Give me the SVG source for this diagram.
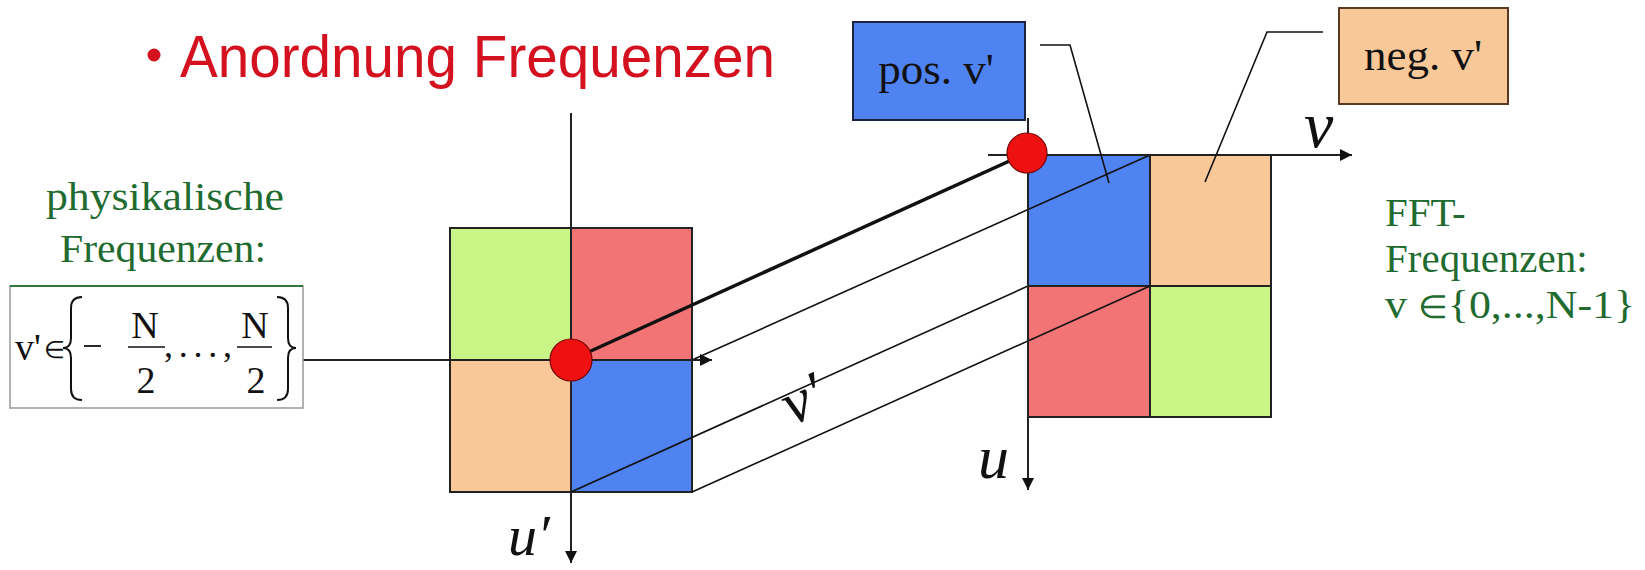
<svg xmlns="http://www.w3.org/2000/svg" width="1645" height="570" viewBox="0 0 1645 570">
<defs>
<style>
.q{stroke:#222;stroke-width:2}
.gr{fill:#c8f585}.rd{fill:#f27474}.pe{fill:#f8c898}.bl{fill:#5083f2}
.ax{stroke:#222;stroke-width:2;fill:none}
.thin{stroke:#111;stroke-width:1.6;fill:none}
.lab{font-family:"Liberation Serif","Times New Roman",serif;font-style:italic;fill:#111}
.green{font-family:"Liberation Serif","Times New Roman",serif;fill:#1f6b30;font-size:41px}
.f{font-family:"Liberation Serif","Times New Roman",serif;fill:#111}
.dot{fill:#ee1111;stroke:#700;stroke-width:1.2}
</style>
<marker id="ah" viewBox="0 0 10 10" refX="10" refY="5" markerWidth="12" markerHeight="12" markerUnits="userSpaceOnUse" orient="auto">
<path d="M0,0 L10,5 L0,10 z" fill="#111"/>
</marker>
</defs>
<rect width="1645" height="570" fill="#fff"/>

<g id="title">
<circle cx="154" cy="55" r="6.5" fill="#d4111f"/>
<text x="180" y="77" font-family="Liberation Sans, Arial, sans-serif" font-size="60" fill="#d4111f" textLength="595" lengthAdjust="spacingAndGlyphs">Anordnung Frequenzen</text>
</g>

<g id="left-square">
<rect class="gr q" x="450" y="228" width="121" height="132"/>
<rect class="rd q" x="571" y="228" width="121" height="132"/>
<rect class="pe q" x="450" y="360" width="121" height="132"/>
<rect class="bl q" x="571" y="360" width="121" height="132"/>
</g>

<g id="right-square">
<rect class="bl q" x="1028" y="155" width="122" height="131"/>
<rect class="pe q" x="1150" y="155" width="121" height="131"/>
<rect class="rd q" x="1028" y="286" width="122" height="131"/>
<rect class="gr q" x="1150" y="286" width="121" height="131"/>
</g>

<g id="connectors">
<line x1="571" y1="360" x2="1027" y2="153" stroke="#111" stroke-width="3.5"/>
<line class="thin" x1="692" y1="360" x2="1150" y2="155"/>
<line class="thin" x1="571" y1="492" x2="1028" y2="286"/>
<line class="thin" x1="692" y1="492" x2="1150" y2="286"/>
<line class="ax" x1="300" y1="360" x2="712" y2="360" marker-end="url(#ah)"/>
<line class="ax" x1="571" y1="113" x2="571" y2="563" marker-end="url(#ah)"/>
<line class="ax" x1="988" y1="155" x2="1352" y2="155" marker-end="url(#ah)"/>
<line class="ax" x1="1028" y1="118" x2="1028" y2="490" marker-end="url(#ah)"/>
<polyline class="thin" points="1040,45 1070,45 1109,183"/>
<polyline class="thin" points="1323,32 1267,32 1205,182"/>
</g>

<g id="origin-left"><circle class="dot" cx="571" cy="360" r="21"/></g>
<g id="origin-right"><circle class="dot" cx="1027" cy="153" r="20"/></g>

<g id="pos-label">
<rect x="853" y="22" width="172" height="98" fill="#5083f2" stroke="#1a2440" stroke-width="2"/>
<text class="f" x="936" y="84" font-size="45" text-anchor="middle">pos. v'</text>
</g>
<g id="neg-label">
<rect x="1339" y="8" width="169" height="96" fill="#f8c898" stroke="#5a3a20" stroke-width="2"/>
<text class="f" x="1423" y="70" font-size="45" text-anchor="middle">neg. v'</text>
</g>

<g id="axis-labels">
<text class="lab" x="1304" y="147" font-size="66">v</text>
<text class="lab" x="978" y="478" font-size="62">u</text>
<text class="lab" x="508" y="555" font-size="58">u′</text>
<text class="lab" transform="translate(792,426) rotate(-24)" font-size="62">v′</text>
</g>

<g id="phys-text">
<text class="green" x="46" y="210" textLength="238" lengthAdjust="spacingAndGlyphs">physikalische</text>
<text class="green" x="60" y="262" textLength="206" lengthAdjust="spacingAndGlyphs">Frequenzen:</text>
</g>

<g id="formula-box">
<rect x="10" y="286" width="293" height="122" fill="#fff" stroke="#999" stroke-width="1.5"/>
<line x1="10" y1="286" x2="303" y2="286" stroke="#2f7a3a" stroke-width="2"/>
<text class="f" x="15" y="360" font-size="38">v'</text>
<text class="f" x="44" y="358" font-size="24">∈</text>
<path d="M82,297 Q71,297 71,308 L71,338 Q71,348 63,348 Q71,348 71,358 L71,389 Q71,400 82,400" fill="none" stroke="#111" stroke-width="2"/>
<line x1="84" y1="346" x2="101" y2="346" stroke="#111" stroke-width="1.8"/>
<text class="f" x="145" y="338" font-size="38" text-anchor="middle">N</text>
<line x1="128" y1="347" x2="165" y2="347" stroke="#111" stroke-width="1.5"/>
<text class="f" x="146" y="393" font-size="38" text-anchor="middle">2</text>
<text class="f" x="164" y="357" font-size="36" textLength="68" lengthAdjust="spacing">,...,</text>
<text class="f" x="255" y="338" font-size="38" text-anchor="middle">N</text>
<line x1="237" y1="347" x2="272" y2="347" stroke="#111" stroke-width="1.5"/>
<text class="f" x="256" y="393" font-size="38" text-anchor="middle">2</text>
<path d="M277,297 Q288,297 288,308 L288,338 Q288,348 296,348 Q288,348 288,358 L288,389 Q288,400 277,400" fill="none" stroke="#111" stroke-width="2"/>
</g>

<g id="fft-text">
<text class="green" x="1385" y="226">FFT-</text>
<text class="green" x="1385" y="272">Frequenzen:</text>
<text class="green" x="1385" y="318" textLength="250" lengthAdjust="spacingAndGlyphs">v <tspan font-size="32">∈</tspan>{0,...,N-1}</text>
</g>
</svg>
